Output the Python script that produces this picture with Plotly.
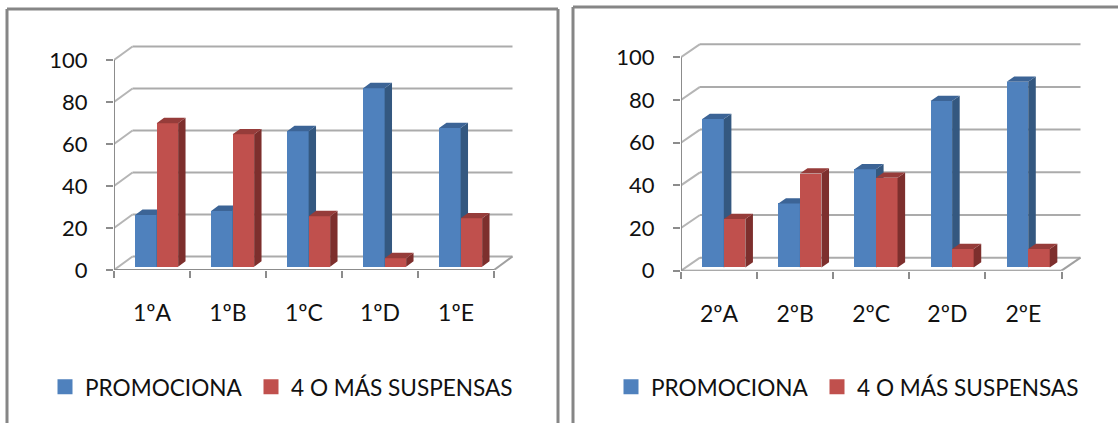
import plotly.graph_objects as go

W, H = 1118, 423
SERIES = ["PROMOCIONA", "4 O MÁS SUSPENSAS"]
CATS_1 = ["1ºA", "1ºB", "1ºC", "1ºD", "1ºE"]
PROMO_1 = [24.6, 26.5, 64.5, 85, 66]
SUSP_1 = [68.3, 63, 24, 4, 23]
CATS_2 = ["2ºA", "2ºB", "2ºC", "2ºD", "2ºE"]
PROMO_2 = [69.5, 30, 46, 78, 87]
SUSP_2 = [22.7, 44, 42, 8.7, 8.7]
Y_TICKS = [0, 20, 40, 60, 80, 100]

BLUE, BLUE_SIDE, BLUE_TOP = "#4F81BD", "#345880", "#3C6496"
RED, RED_SIDE, RED_TOP = "#C0504D", "#7D2F2D", "#963C3A"
GRID, AXIS, FRAME = "#ABABAB", "#8C8C8C", "#868686"
FONT = "Lato, Carlito, Calibri, sans-serif"
TEXT = "#111111"

fig = go.Figure()
shapes = []
BAR_W = 0.283


def faces(vals, xs0, f, dxd, dyd):
    sx, sy, tx, ty = [], [], [], []
    for i, v in enumerate(vals):
        xl = i + xs0
        xr = xl + BAR_W
        b = f
        t = f + v
        sx += [xr, xr, xr + dxd, xr + dxd, xr, None]
        sy += [b, t, t + dyd, b + dyd, b, None]
        tx += [xl, xr, xr + dxd, xl + dxd, xl, None]
        ty += [t, t, t + dyd, t + dyd, t, None]
    return sx, sy, tx, ty


def chart(cats, promo, susp, ax0, ay0, ppx, ppy, dpx, dpy, x_end, suffix, legend):
    n1 = suffix
    n2 = suffix + 1
    xa = lambda n: "x" if n == 1 else f"x{n}"
    ya = lambda n: "y" if n == 1 else f"y{n}"
    la = lambda s, n: s + "axis" + ("" if n == 1 else str(n))
    top_px = 30
    xr = [-0.5, -0.5 + (x_end - ax0) / ppx]
    yr = [0, (ay0 - top_px) / ppy]
    dom_x = [ax0 / W, x_end / W]
    dom_y = [1 - ay0 / H, 1 - top_px / H]
    dx, dy = dpx / ppx, dpy / ppy
    ff, fb = 0.25, 0.40
    fx, fy = dx * ff, dy * ff
    dxd, dyd = dx * fb, dy * fb
    n = len(cats)
    idx = list(range(n))

    fig.update_layout({
        la("x", n1): dict(domain=dom_x, range=xr, anchor=ya(n1), showgrid=False, zeroline=False,
                          showline=False, tickmode="array", tickvals=idx, ticktext=cats, ticks="",
                          ticklabelstandoff=27, tickfont=dict(family=FONT, size=23, color=TEXT),
                          minor=dict(tickmode="array", tickvals=[i - 0.5 for i in range(n + 1)],
                                     ticks="outside", ticklen=7, tickwidth=2, tickcolor=AXIS, showgrid=False)),
        la("y", n1): dict(domain=dom_y, range=yr, anchor=xa(n1), showgrid=False, zeroline=False,
                          showline=False, tickmode="array", tickvals=Y_TICKS, ticks="outside",
                          ticklen=7, tickwidth=2, tickcolor=AXIS, ticklabelstandoff=14,
                          tickfont=dict(family=FONT, size=22, color=TEXT)),
        la("x", n2): dict(domain=dom_x, range=xr, anchor=ya(n2), overlaying=xa(n1), visible=False),
        la("y", n2): dict(domain=dom_y, range=yr, anchor=xa(n2), overlaying=ya(n1), visible=False),
    })

    xl, xe = xr[0], n - 0.5
    ln = lambda x0, y0, x1, y1, c=GRID, w=2: dict(type="line", xref=xa(n1), yref=ya(n1), x0=x0, y0=y0,
                                                   x1=x1, y1=y1, layer="below", line=dict(color=c, width=w))
    for v in Y_TICKS:
        shapes.append(ln(xl, v, xl + dx, v + dy, "#B5B5B5", 2))
        shapes.append(ln(xl + dx, v + dy, xe + dx, v + dy))
    shapes.append(ln(xe, 0, xe + dx, dy, "#A0A0A0", 2))
    shapes.append(ln(xl, 0, xe, 0, AXIS, 2))
    shapes.append(ln(xl, 0, xl, Y_TICKS[-1], AXIS, 2))

    # blue series (base layer)
    x0b = fx - BAR_W
    fig.add_trace(go.Bar(x=idx, y=promo, base=fy, width=BAR_W, offset=x0b, marker=dict(color=BLUE, line_width=0),
                         name=SERIES[0], showlegend=False, xaxis=xa(n1), yaxis=ya(n1)))
    sx, sy, tx, ty = faces(promo, x0b, fy, dxd, dyd)
    for X, Y, c in ((sx, sy, BLUE_SIDE), (tx, ty, BLUE_TOP)):
        fig.add_trace(go.Scatter(x=X, y=Y, mode="lines", fill="toself", fillcolor=c, line=dict(width=0),
                                 showlegend=False, hoverinfo="skip", xaxis=xa(n1), yaxis=ya(n1)))
    # red series (overlay layer, in front of the blue side faces)
    x0r = fx
    fig.add_trace(go.Bar(x=idx, y=susp, base=fy, width=BAR_W, offset=x0r, marker=dict(color=RED, line_width=0),
                         name=SERIES[1], showlegend=False, xaxis=xa(n2), yaxis=ya(n2)))
    sx, sy, tx, ty = faces(susp, x0r, fy, dxd, dyd)
    for X, Y, c in ((sx, sy, RED_SIDE), (tx, ty, RED_TOP)):
        fig.add_trace(go.Scatter(x=X, y=Y, mode="lines", fill="toself", fillcolor=c, line=dict(width=0),
                                 showlegend=False, hoverinfo="skip", xaxis=xa(n2), yaxis=ya(n2)))
    # legend keys
    for k, (name, c) in enumerate(zip(SERIES, (BLUE, RED))):
        extra = dict(legendwidth=161) if k == 0 else {}
        fig.add_trace(go.Scatter(x=[None], y=[None], mode="markers", name=name,
                                 marker=dict(symbol="square", size=15, color=c), legend=legend,
                                 xaxis=xa(n1), yaxis=ya(n1), **extra))


chart(CATS_1, PROMO_1, SUSP_1, 114, 270, 76, 2.10, 18.5, 13.5, 530, 1, "legend")
chart(CATS_2, PROMO_2, SUSP_2, 681, 270.7, 76.1, 2.135, 19, 13, 1098, 3, "legend2")

frame = lambda x0, y0, x1, y1, w=3: dict(type="line", xref="paper", yref="paper", x0=x0 / W, y0=1 - y0 / H,
                                         x1=x1 / W, y1=1 - y1 / H, line=dict(color=FRAME, width=w))
shapes += [frame(7, 9, 558, 9), frame(7, 9, 7, H), frame(558, 9, 558, H),
           frame(573, 7, W, 7), frame(573, 7, 573, H)]

leg = dict(orientation="h", xanchor="left", yanchor="middle", y=1 - 387 / H,
           bgcolor="rgba(0,0,0,0)", font=dict(family=FONT, size=22.6, color=TEXT), itemwidth=30,
           traceorder="normal", itemclick=False, itemdoubleclick=False)
fig.update_layout(
    width=W, height=H, margin=dict(l=0, r=0, t=0, b=0, autoexpand=False), autosize=False,
    paper_bgcolor="white", plot_bgcolor="rgba(0,0,0,0)", bargap=0, shapes=shapes,
    showlegend=True, hovermode=False,
    legend=dict(leg, x=45 / W),
    legend2=dict(leg, x=611 / W),
)
fig.write_html("out.html", config=dict(displayModeBar=False),
               post_script="document.body.style.margin='0';document.body.style.overflow='hidden';")
